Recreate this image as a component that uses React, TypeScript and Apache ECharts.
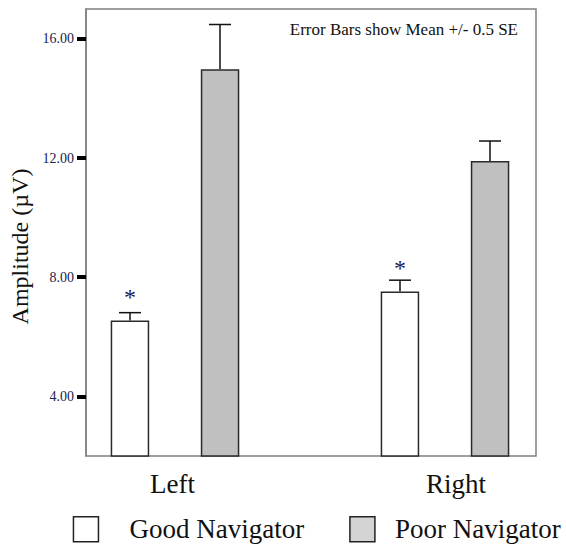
import React, { useEffect, useRef } from "react";
import * as echarts from "echarts";

const categories = ["Left", "Right"];
const goodMean = [6.55, 7.52];
const goodUpper = [6.81, 7.9];
const poorMean = [14.98, 11.9];
const poorUpper = [16.48, 12.57];
const goodSignificant = [true, true];
const yTicks = [4, 8, 12, 16];
const seriesNames = ["Good Navigator", "Poor Navigator"];

const FONT = "Liberation Serif";

export default function App() {
  const ref = useRef<HTMLDivElement>(null);

  useEffect(() => {
    if (!ref.current) return;
    const chart = echarts.init(ref.current, null, { renderer: "svg" });

    const errData: any[] = [];
    categories.forEach((_, i) => {
      errData.push([i, goodUpper[i], goodMean[i], 0, goodSignificant[i] ? 1 : 0]);
      errData.push([i, poorUpper[i], poorMean[i], 1, 0]);
    });

    const barOffset = 45;
    const capHalf = 11;

    const option: any = {
      animation: false,
      backgroundColor: "#ffffff",
      title: {
        text: "Error Bars show Mean +/- 0.5 SE",
        right: 48,
        top: 21,
        padding: 0,
        textStyle: { fontFamily: FONT, fontSize: 17, fontWeight: "normal", color: "#111111" },
      },
      legend: {
        left: 72.7,
        top: 515.7,
        padding: 0,
        itemWidth: 25,
        itemHeight: 25,
        itemGap: 45,
        icon: "rect",
        selectedMode: false,
        textStyle: { fontFamily: FONT, fontSize: 27, color: "#111111" },
        data: [
          {
            name: seriesNames[0],
            itemStyle: { color: "#ffffff", borderColor: "#222222", borderWidth: 1.5 },
            textStyle: { fontFamily: FONT, fontSize: 27, color: "#111111", padding: [0, 0, 0, 26] },
          },
          {
            name: seriesNames[1],
            itemStyle: { color: "#d4d4d4", borderColor: "#222222", borderWidth: 1.5 },
            textStyle: { fontFamily: FONT, fontSize: 27, color: "#111111", padding: [0, 0, 0, 15] },
          },
        ],
      },
      grid: [
        {
          left: 86,
          top: 9,
          width: 450,
          height: 447,
          show: true,
          borderColor: "#808080",
          borderWidth: 1.5,
          backgroundColor: "transparent",
          outerBoundsMode: "none",
        },
        {
          left: 40,
          top: 9,
          width: 540,
          height: 447,
          show: false,
          outerBoundsMode: "none",
        },
      ],
      xAxis: [
        { gridIndex: 0, type: "category", data: categories, show: false },
        {
          gridIndex: 1,
          type: "category",
          data: categories,
          axisLine: { show: false },
          axisTick: { show: false },
          axisLabel: {
            margin: 14,
            fontFamily: FONT,
            fontSize: 27,
            color: "#111111",
            formatter: (v: string) => (v === categories[0] ? `{l|${v}}` : `{r|${v}}`),
            rich: {
              l: { fontFamily: FONT, fontSize: 27, color: "#111111", padding: [0, 5, 0, 0] },
              r: { fontFamily: FONT, fontSize: 27, color: "#111111", padding: [0, 0, 0, 22] },
            },
          },
        },
      ],
      yAxis: [
        {
          gridIndex: 0,
          type: "value",
          min: 2,
          max: 17,
          splitLine: { show: false },
          axisLine: { show: true, lineStyle: { color: "#808080", width: 1.5 } },
          axisTick: {
            show: true,
            customValues: yTicks,
            length: 9,
            lineStyle: { color: "#000000", width: 4 },
          },
          axisLabel: {
            customValues: yTicks,
            formatter: (v: number) => v.toFixed(2),
            margin: 12,
            fontFamily: FONT,
            fontSize: 14,
            color: "#22224a",
            padding: [4, 0, 0, 0],
          },
          name: "Amplitude (µV)",
          nameLocation: "middle",
          nameGap: 45,
          nameTextStyle: {
            fontFamily: FONT,
            fontSize: 24,
            color: "#111111",
            padding: [0, 28, 0, 0],
          },
        },
        {
          gridIndex: 1,
          type: "value",
          min: 2,
          max: 17,
          show: false,
        },
      ],
      series: [
        {
          name: seriesNames[0],
          type: "bar",
          xAxisIndex: 1,
          yAxisIndex: 1,
          data: goodMean,
          barWidth: 38.5,
          barGap: "134%",
          itemStyle: { color: "#ffffff", borderColor: "#2a2a2a", borderWidth: 1.5 },
        },
        {
          name: seriesNames[1],
          type: "bar",
          xAxisIndex: 1,
          yAxisIndex: 1,
          data: poorMean,
          barWidth: 38.5,
          barGap: "134%",
          itemStyle: { color: "#c0c0c0", borderColor: "#2a2a2a", borderWidth: 1.5 },
        },
        {
          name: "errors",
          type: "custom",
          xAxisIndex: 1,
          yAxisIndex: 1,
          z: 5,
          encode: { x: 0, y: 1 },
          data: errData,
          renderItem: (params: any, api: any) => {
            const cat = api.value(0);
            const upper = api.value(1);
            const mean = api.value(2);
            const s = api.value(3);
            const sig = api.value(4);
            const pTop = api.coord([cat, upper]);
            const pMean = api.coord([cat, mean]);
            const x = pTop[0] + (s === 0 ? -barOffset : barOffset);
            const children: any[] = [
              {
                type: "line",
                shape: { x1: x, y1: pMean[1], x2: x, y2: pTop[1] },
                style: { stroke: "#111111", lineWidth: 1.5 },
              },
              {
                type: "line",
                shape: { x1: x - capHalf, y1: pTop[1], x2: x + capHalf, y2: pTop[1] },
                style: { stroke: "#111111", lineWidth: 1.5 },
              },
            ];
            if (sig) {
              children.push({
                type: "text",
                style: {
                  text: "*",
                  x: x,
                  y: pMean[1] - 23.5,
                  align: "center",
                  verticalAlign: "middle",
                  fontFamily: FONT,
                  fontSize: 24,
                  fill: "#1a1a50",
                },
              });
            }
            return { type: "group", children };
          },
        },
      ],
    };

    chart.setOption(option);
    return () => chart.dispose();
  }, []);

  return (
    <div
      ref={ref}
      style={{ position: "fixed", left: 0, top: 0, width: 566, height: 549, background: "#fff" }}
    />
  );
}
